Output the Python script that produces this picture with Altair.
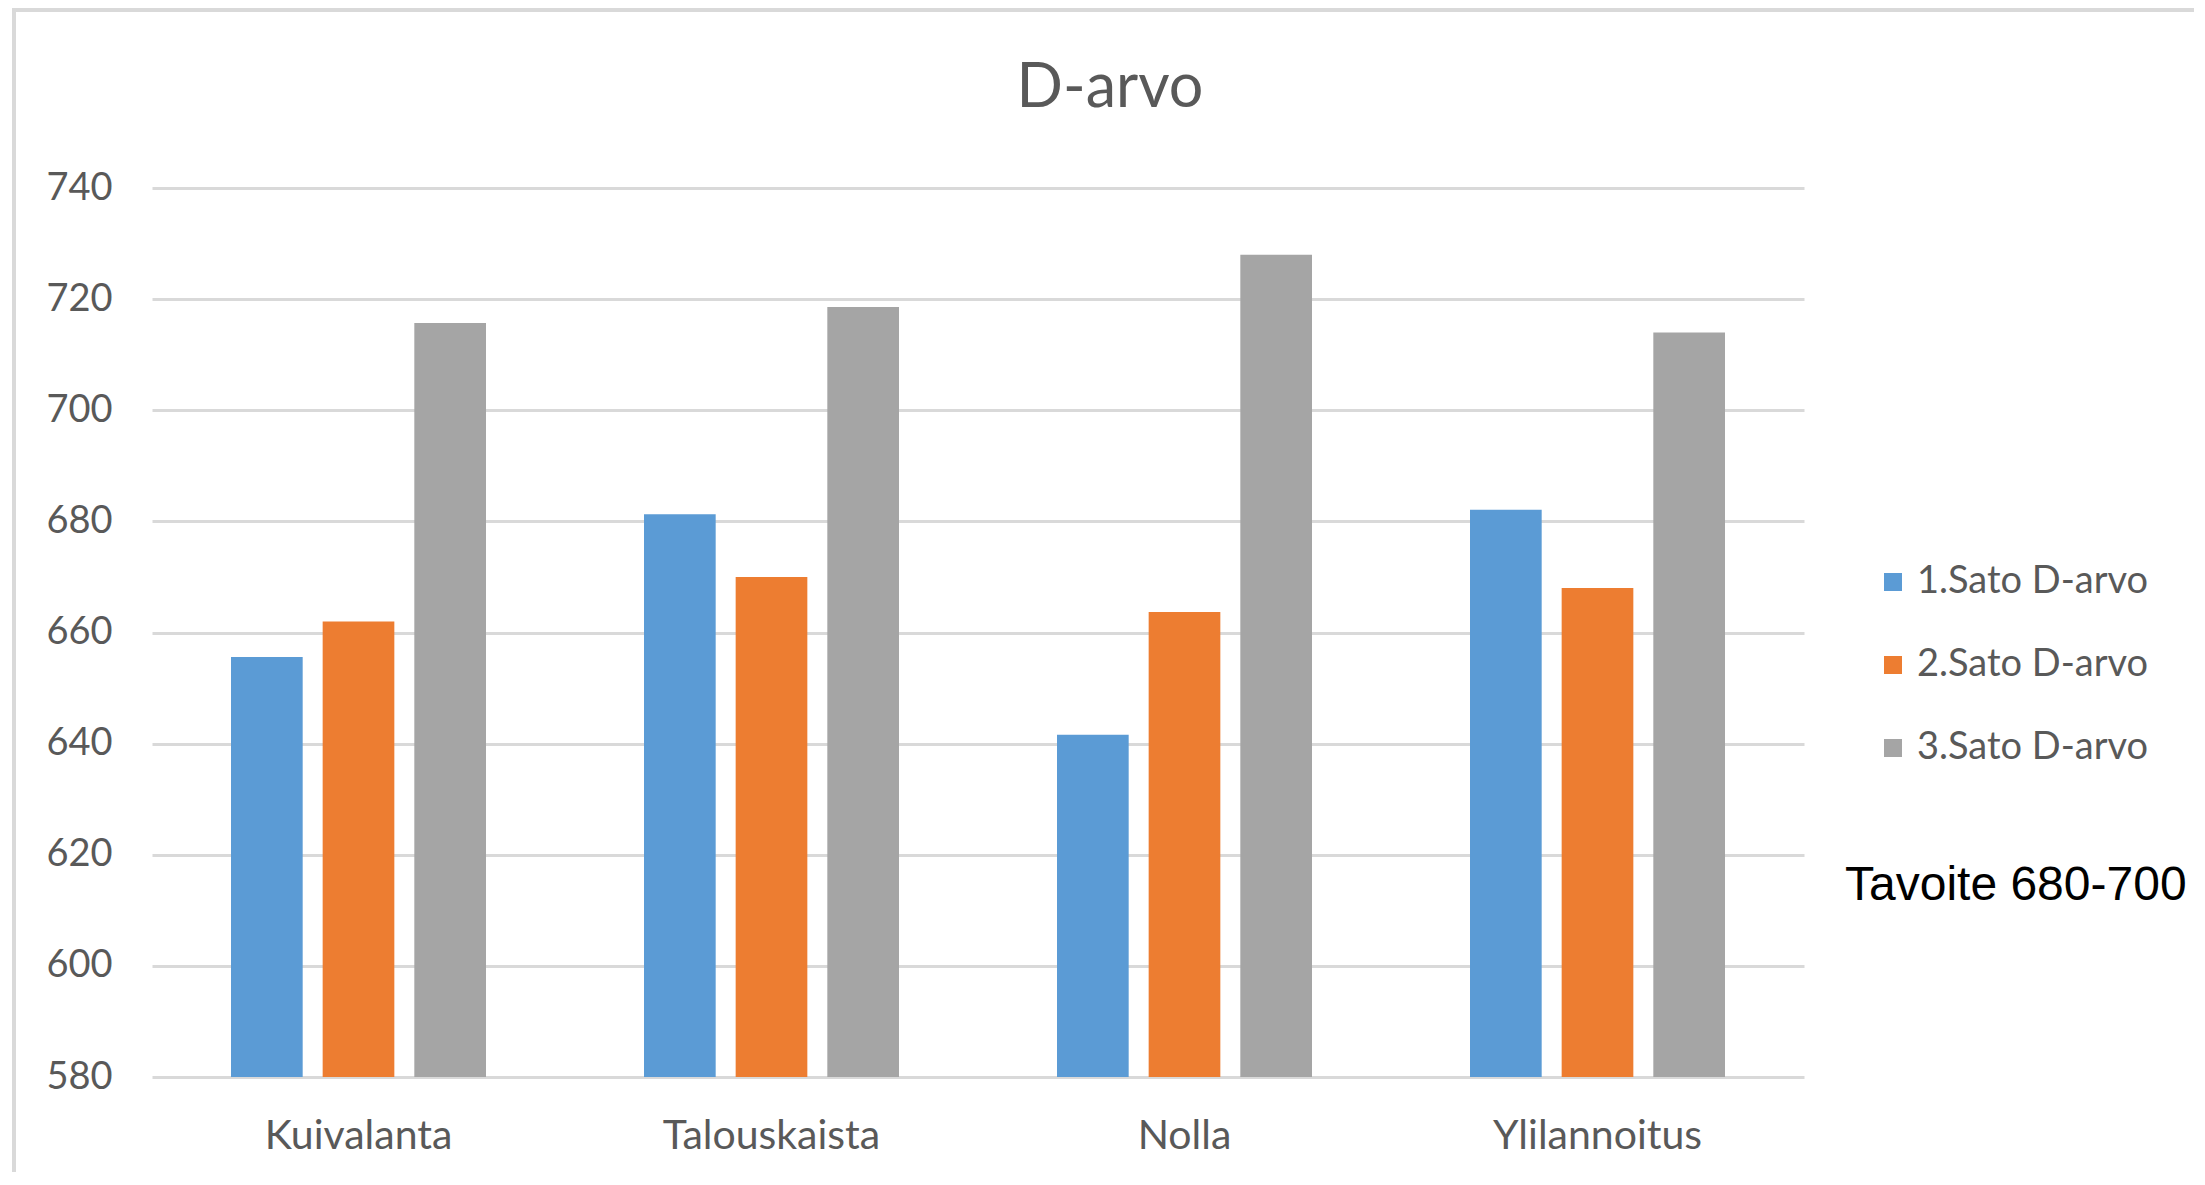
import altair as alt
import pandas as pd

title_text = "D-arvo"
note_text = "Tavoite 680-700"
categories = ["Kuivalanta", "Talouskaista", "Nolla", "Ylilannoitus"]
series = ["1.Sato D-arvo", "2.Sato D-arvo", "3.Sato D-arvo"]
sato1 = [655.6, 681.3, 641.6, 682.1]
sato2 = [662.0, 670.0, 663.7, 668.0]
sato3 = [715.7, 718.6, 728.0, 714.0]
y_ticks = [580, 600, 620, 640, 660, 680, 700, 720, 740]
colors = ["#5b9bd5", "#ed7d31", "#a5a5a5"]

rows = []
for s, vals in zip(series, [sato1, sato2, sato3]):
    for c, v in zip(categories, vals):
        rows.append({"kategoria": c, "sarja": s, "arvo": v})
df = pd.DataFrame(rows)

TXT = "#595959"
FONT = "Lato"

bars = alt.Chart(df).mark_bar().encode(
    x=alt.X("kategoria:N", sort=categories, title=None,
            scale=alt.Scale(paddingInner=0.3826, paddingOuter=0.1913),
            axis=alt.Axis(labelAngle=0, domain=False, ticks=False, tickSize=0,
                          labelPadding=39, labelFontSize=41, labelFont=FONT,
                          labelColor=TXT, grid=False, labelLimit=0)),
    xOffset=alt.XOffset("sarja:N", sort=series,
                        scale=alt.Scale(paddingInner=0.218, paddingOuter=0)),
    y=alt.Y("arvo:Q", title=None,
            scale=alt.Scale(domain=[580, 740], zero=False, nice=False),
            axis=alt.Axis(values=y_ticks, domain=False, ticks=False, tickSize=0,
                          labelPadding=40, labelFontSize=38, labelFont=FONT,
                          labelColor=TXT, gridColor="#d9d9d9", gridWidth=2.8,
                          labelLimit=0)),
    y2=alt.datum(580),
    color=alt.Color("sarja:N", sort=series,
                    scale=alt.Scale(domain=series, range=colors),
                    legend=alt.Legend(title=None, orient="none", legendX=1722,
                                      legendY=375, symbolType="square",
                                      symbolSize=324, symbolStrokeWidth=0,
                                      labelFontSize=38, labelFont=FONT,
                                      labelColor=TXT, labelOffset=5,
                                      labelLimit=0,
                                      rowPadding=45, padding=0)),
)

note = alt.Chart(pd.DataFrame({"t": [note_text]})).mark_text(
    align="left", baseline="alphabetic", font="Liberation Sans",
    fontSize=48, color="#000000"
).encode(text="t:N", x=alt.value(1693), y=alt.value(712))

frame = alt.Chart(pd.DataFrame({"t": [0]})).mark_rect(
    fill=None, stroke="#d9d9d9", strokeWidth=4
).encode(x=alt.value(-138), x2=alt.value(2051), y=alt.value(-178), y2=alt.value(1000))

chart = alt.layer(frame, bars, note).properties(
    width=1652, height=889,
    title=alt.Title(title_text, fontSize=61, font=FONT, color=TXT,
                    fontWeight="normal", anchor="middle", dx=132,
                    baseline="alphabetic", offset=-160),
    autosize=alt.AutoSizeParams(type="none"),
    padding={"left": 144, "top": 180, "right": 390, "bottom": 95},
).configure_view(stroke=None)

chart.save("out.html", embed_options={"renderer": "svg", "actions": False})
